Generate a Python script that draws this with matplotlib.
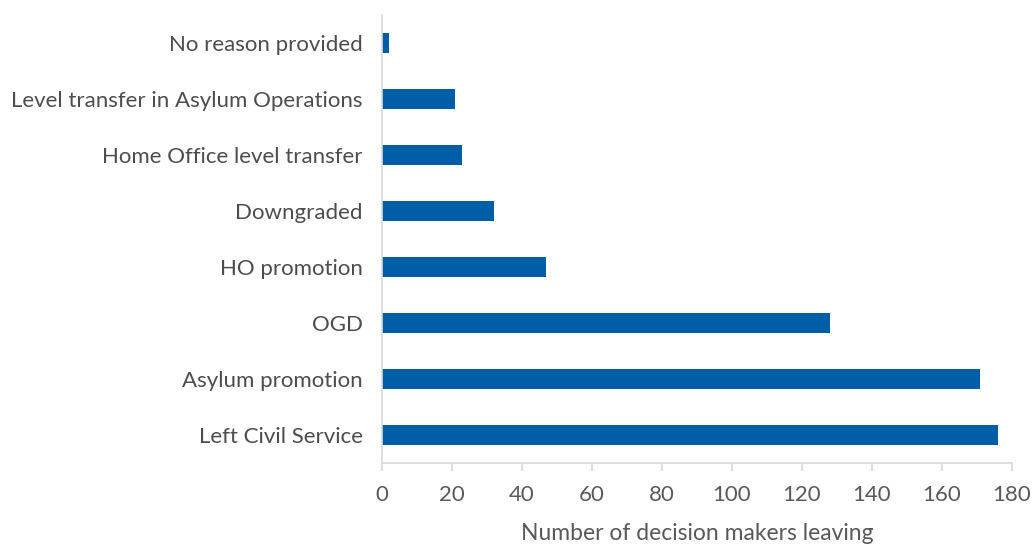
import matplotlib.pyplot as plt

reasons = ['Left Civil Service', 'Asylum promotion', 'OGD', 'HO promotion',
           'Downgraded', 'Home Office level transfer',
           'Level transfer in Asylum Operations', 'No reason provided']
leavers = [176, 171, 128, 47, 32, 23, 21, 2]
x_ticks = [0, 20, 40, 60, 80, 100, 120, 140, 160, 180]

plt.rcParams['font.family'] = ['Lato', 'DejaVu Sans']

fig = plt.figure(figsize=(10.34, 5.45), dpi=100)
ax = fig.add_axes([0.3694, 0.1505, 0.6093, 0.8220])

ax.barh(range(len(reasons)), leavers, height=0.36, color='#005EA8')

ax.set_xlim(0, 180)
ax.set_ylim(-0.5, len(reasons) - 0.5)
ax.set_xticks(x_ticks)
ax.set_yticks(range(len(reasons)))
ax.set_yticklabels(reasons, fontsize=16, color='#4D4D4D')

for side in ['top', 'right']:
    ax.spines[side].set_visible(False)
for side in ['left', 'bottom']:
    ax.spines[side].set_color('#D9D9D9')
    ax.spines[side].set_linewidth(1.2)

ax.tick_params(axis='y', length=0, pad=14)
ax.tick_params(axis='x', length=6, width=1.2, color='#D9D9D9',
               labelsize=16, labelcolor='#595959', pad=10)

ax.set_xlabel('Number of decision makers leaving', fontsize=16.5,
              color='#595959', labelpad=13)

fig.savefig('out.png', dpi=100)
